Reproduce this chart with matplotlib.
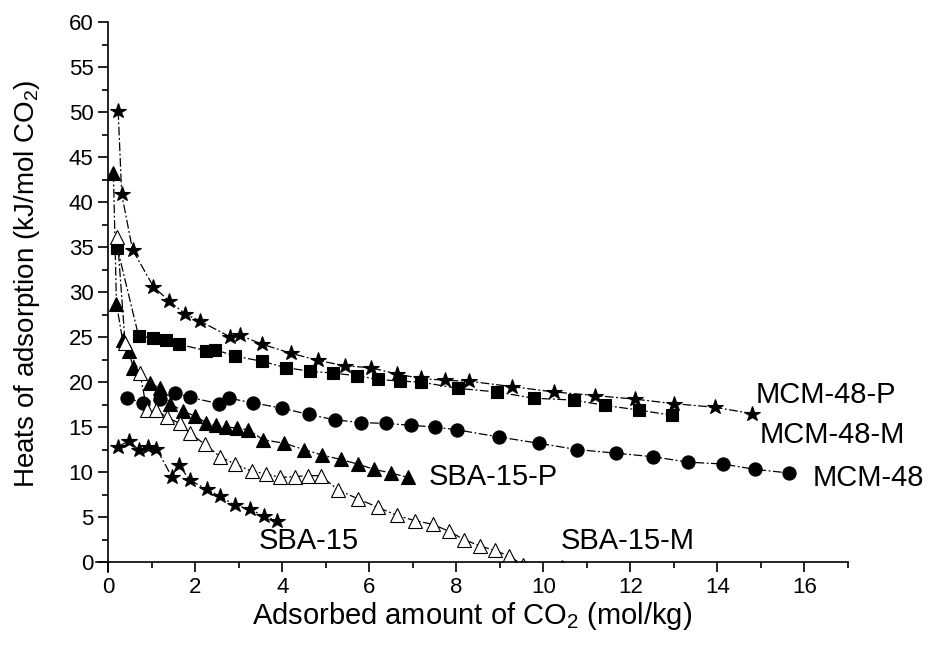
import numpy as np
import matplotlib
matplotlib.use("Agg")
import matplotlib.pyplot as plt
from matplotlib.patches import Rectangle

plt.rcParams['font.family'] = ['Liberation Sans', 'DejaVu Sans']
plt.rcParams['mathtext.fontset'] = 'custom'
plt.rcParams['mathtext.rm'] = 'Liberation Sans'

# MCM-48-P (stars, top)
mcm48p_x = [0.23, 0.31, 0.56, 1.04, 1.40, 1.76, 2.10, 2.81, 3.03, 3.54, 4.20, 4.83, 5.44,
            6.03, 6.63, 7.18, 7.74, 8.28, 9.27, 10.25, 11.19, 12.11, 13.0, 13.94, 14.79]
mcm48p_y = [50.1, 40.9, 34.7, 30.6, 29.0, 27.6, 26.8, 25.0, 25.2, 24.2, 23.2, 22.4, 21.8,
            21.6, 20.9, 20.4, 20.2, 20.1, 19.5, 18.9, 18.5, 18.1, 17.6, 17.2, 16.5]

# MCM-48-M (squares)
mcm48m_x = [0.21, 0.70, 1.02, 1.33, 1.62, 2.25, 2.45, 2.91, 3.54, 4.09, 4.64, 5.17, 5.71,
            6.21, 6.71, 7.18, 8.04, 8.93, 9.79, 10.70, 11.42, 12.19, 12.95]
mcm48m_y = [34.9, 25.1, 24.9, 24.7, 24.2, 23.5, 23.6, 22.9, 22.3, 21.6, 21.2, 21.0, 20.7,
            20.3, 20.1, 20.0, 19.3, 18.9, 18.2, 18.0, 17.4, 16.9, 16.3]

# MCM-48 (circles)
mcm48_x = [0.44, 0.81, 1.19, 1.53, 1.87, 2.55, 2.78, 3.32, 3.99, 4.61, 5.21, 5.81, 6.39,
           6.96, 7.51, 8.01, 8.98, 9.89, 10.78, 11.67, 12.53, 13.33, 14.12, 14.87, 15.64]
mcm48_y = [18.2, 17.7, 18.1, 18.8, 18.3, 17.6, 18.2, 17.7, 17.1, 16.4, 15.8, 15.5, 15.4,
           15.2, 15.0, 14.7, 13.9, 13.2, 12.5, 12.1, 11.7, 11.1, 10.9, 10.3, 9.9]

# SBA-15-P (filled triangles)
sba15p_x = [0.12, 0.19, 0.33, 0.47, 0.58, 0.96, 1.19, 1.42, 1.71, 2.0, 2.25, 2.48, 2.71,
            2.95, 3.22, 3.56, 4.05, 4.50, 4.91, 5.34, 5.73, 6.11, 6.50, 6.90]
sba15p_y = [43.2, 28.7, 24.7, 23.4, 21.6, 19.9, 19.3, 17.6, 16.8, 16.2, 15.5, 15.2, 15.0,
            14.9, 14.7, 13.6, 13.2, 12.5, 11.9, 11.4, 10.9, 10.3, 9.9, 9.4]

# SBA-15-M (open triangles)
sba15m_x = [0.21, 0.39, 0.73, 0.89, 1.11, 1.34, 1.65, 1.88, 2.22, 2.57, 2.91, 3.30, 3.63,
            3.95, 4.29, 4.58, 4.88, 5.29, 5.75, 6.19, 6.63, 7.05, 7.46, 7.84, 8.18, 8.54,
            8.88, 9.20, 9.53, 9.89, 10.08, 10.42]
sba15m_y = [36.1, 24.3, 21.0, 16.9, 16.9, 16.1, 15.4, 14.3, 13.1, 11.7, 10.9, 10.1, 9.8,
            9.4, 9.5, 9.6, 9.6, 8.0, 7.0, 6.1, 5.2, 4.6, 4.2, 3.4, 2.5, 1.8,
            1.3, 0.7, -0.3, -0.8, -1.0, -0.5]

# SBA-15 (stars, bottom)
sba15_x = [0.23, 0.48, 0.71, 0.92, 1.11, 1.46, 1.62, 1.88, 2.26, 2.58, 2.91, 3.26, 3.57, 3.87]
sba15_y = [12.8, 13.5, 12.4, 12.8, 12.6, 9.5, 10.8, 9.1, 8.1, 7.3, 6.3, 5.9, 5.1, 4.6]

labels = ['MCM-48-P', 'MCM-48-M', 'MCM-48', 'SBA-15-P', 'SBA-15', 'SBA-15-M']
label_pos = [(14.88, 18.6), (14.96, 14.1), (16.18, 9.3), (7.36, 9.5), (3.45, 2.3), (10.4, 2.3)]

fig = plt.figure(figsize=(9.3, 6.46), dpi=100)
# x from -0.28 to 17 -> 96..848 px ; y from -1.1 to 60 -> 572..22 px
ax = fig.add_axes([96 / 930, 74 / 646, 752 / 930, 550 / 646])

ls = (0, (7, 2, 1.5, 2))
clip = Rectangle((0, 0), 17, 60, transform=ax.transData)

series = [
    (mcm48p_x, mcm48p_y, '*', 11.5, 'k'),
    (mcm48m_x, mcm48m_y, 's', 8.5, 'k'),
    (mcm48_x, mcm48_y, 'o', 9.5, 'k'),
    (sba15p_x, sba15p_y, '^', 10.5, 'k'),
    (sba15m_x, sba15m_y, '^', 10.5, 'w'),
    (sba15_x, sba15_y, '*', 11.5, 'k'),
]
for x, y, m, ms, fc in series:
    line, = ax.plot(x, y, linestyle=ls, color='k', lw=0.9, marker=m, ms=ms,
                    mfc=fc, mec='k', mew=0.8)
    line.set_clip_path(clip)

for txt, (tx, ty) in zip(labels, label_pos):
    ax.text(tx, ty, txt, fontsize=21, ha='left', va='center')

ax.set_xlim(-0.28, 17)
ax.set_ylim(-1.1, 60)
ax.spines['left'].set_position(('data', 0))
ax.spines['bottom'].set_position(('data', 0))
ax.spines['top'].set_visible(False)
ax.spines['right'].set_visible(False)
for s in ['left', 'bottom']:
    ax.spines[s].set_linewidth(1.2)

ax.set_xticks(np.arange(0, 17, 2))
ax.set_xticks(np.arange(1, 18, 2), minor=True)
ax.set_yticks(np.arange(0, 61, 5))
ax.set_yticks(np.arange(2.5, 60, 5), minor=True)
ax.tick_params(which='major', direction='out', length=7, width=1.2, labelsize=16)
ax.tick_params(which='minor', direction='out', length=4, width=1.2)

ax.set_xlabel('Adsorbed amount of CO$_2$ (mol/kg)', fontsize=21)
ax.set_ylabel('Heats of adsorption (kJ/mol CO$_2$)', fontsize=20)
ax.xaxis.set_label_coords(0.5, -0.05)
ax.yaxis.set_label_coords(-0.072, 0.525)

fig.savefig('out.png', dpi=100)
